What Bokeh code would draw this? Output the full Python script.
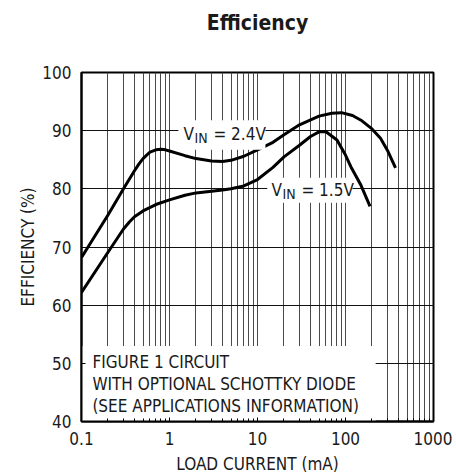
from bokeh.plotting import figure
from bokeh.models import FixedTicker, Label, BoxAnnotation, Range1d, Title
from bokeh.embed import file_html
from bokeh.resources import INLINE

# ---- data ----
load_24 = [0.1, 0.2, 0.3, 0.4, 0.45, 0.5, 0.55, 0.6, 0.7, 0.8, 0.9, 1.0, 1.5, 2, 3, 4, 5, 7, 10, 15, 20, 30, 50, 70, 90, 120, 150, 200, 250, 300, 370]
eff_24 = [68.2, 75.5, 80.0, 83.1, 84.3, 85.2, 85.8, 86.3, 86.7, 86.8, 86.7, 86.5, 85.7, 85.2, 84.8, 84.7, 84.9, 85.6, 86.7, 88.0, 89.3, 91.0, 92.5, 93.0, 93.1, 92.6, 91.8, 90.3, 88.7, 86.6, 83.6]

load_15 = [0.1, 0.2, 0.3, 0.35, 0.4, 0.5, 0.7, 1.0, 1.5, 2, 3, 4, 5, 7, 10, 15, 20, 30, 40, 50, 60, 80, 100, 115, 150, 190]
eff_15 = [62.2, 69.1, 73.1, 74.3, 75.2, 76.2, 77.3, 78.1, 78.9, 79.3, 79.6, 79.8, 80.0, 80.5, 81.6, 83.7, 85.5, 87.5, 89.0, 89.8, 89.8, 88.4, 85.8, 83.8, 80.6, 77.0]

x_ticks = [0.1, 1, 10, 100, 1000]
x_tick_labels = ["0.1", "1", "10", "100", "1000"]
x_minor = [m * d for d in (0.1, 1, 10, 100) for m in range(2, 10)]
y_ticks = [40, 50, 60, 70, 80, 90, 100]

TITLE = "Efficiency"
FONT = "DejaVu Sans Condensed, Roboto, sans-serif"

p = figure(width=452, height=476, x_axis_type="log",
           x_range=Range1d(0.1, 1000), y_range=Range1d(40, 100),
           output_backend="svg", toolbar_location=None,
           min_border_left=81, min_border_right=19,
           min_border_top=72, min_border_bottom=53)
p.background_fill_color = "white"
p.border_fill_color = "white"
p.outline_line_color = "black"
p.outline_line_width = 2

# spacer (nearest the frame) then the title above it
p.add_layout(Title(text=" ", text_font_size="20px", standoff=14), "above")
p.add_layout(Title(text=TITLE, align="center", text_font=FONT, text_font_size="21px",
                   text_font_style="bold", text_color="#1a1a1a", standoff=0), "above")

# grids
p.xgrid.ticker = FixedTicker(ticks=x_ticks, minor_ticks=x_minor)
p.xgrid.grid_line_color = "#4a4a4a"
p.xgrid.minor_grid_line_color = "#4a4a4a"
p.xgrid.grid_line_width = 1
p.xgrid.minor_grid_line_width = 1
p.ygrid.ticker = FixedTicker(ticks=y_ticks)
p.ygrid.grid_line_color = "#111111"
p.ygrid.grid_line_width = 1

# axes
p.xaxis.ticker = FixedTicker(ticks=x_ticks, minor_ticks=x_minor)
p.xaxis.major_label_overrides = dict(zip(x_ticks, x_tick_labels))
p.yaxis.ticker = FixedTicker(ticks=y_ticks)
for ax in (p.xaxis[0], p.yaxis[0]):
    ax.axis_line_width = 2
    ax.axis_line_color = "black"
    ax.major_tick_in = 4
    ax.major_tick_out = 0
    ax.major_tick_line_width = 1
    ax.minor_tick_in = 3
    ax.minor_tick_out = 0
    ax.major_label_text_font = FONT
    ax.major_label_text_font_size = "17px"
    ax.major_label_text_color = "#1a1a1a"
    ax.axis_label_text_font = FONT
    ax.axis_label_text_font_size = "17px"
    ax.axis_label_text_font_style = "normal"
    ax.axis_label_text_color = "#1a1a1a"
p.yaxis.minor_tick_line_color = None
p.xaxis.axis_label = "LOAD CURRENT (mA)"
p.yaxis.axis_label = "EFFICIENCY (%)"
p.xaxis.major_label_standoff = 10
p.xaxis.axis_label_standoff = 6
p.yaxis.major_label_standoff = 10
p.yaxis.axis_label_standoff = 1

# white backgrounds behind the in-plot texts (above grid, below axes/curves)
for l, r, b, t in [(0.1, 220, 40, 53), (1.26, 12.3, 86.7, 91.8), (12.9, 120, 77.6, 81.9)]:
    p.add_layout(BoxAnnotation(left=l, right=r, bottom=b, top=t,
                               fill_color="white", fill_alpha=1.0,
                               line_color=None, level="glyph"))

p.line(load_24, eff_24, line_width=3, color="black", line_join="round")
p.line(load_15, eff_15, line_width=3, color="black", line_join="round")

def vin_label(x, y, val):
    common = dict(x=x, y=y, text_font=FONT, text_color="#1a1a1a",
                  text_baseline="alphabetic", text_align="left")
    p.add_layout(Label(text="V", text_font_size="17px", **common))
    p.add_layout(Label(text="IN", text_font_size="14px", x_offset=11, y_offset=-4, **common))
    p.add_layout(Label(text="= " + val, text_font_size="17px", x_offset=30, **common))

vin_label(1.44, 89.4, "2.4V")
vin_label(14.4, 79.8, "1.5V")

note = ["FIGURE 1 CIRCUIT", "WITH OPTIONAL SCHOTTKY DIODE", "(SEE APPLICATIONS INFORMATION)"]
for i, line in enumerate(note):
    p.add_layout(Label(x=0.133, y=50.2, y_offset=-22 * i, text=line,
                       text_font=FONT, text_font_size="17px", text_color="#1a1a1a",
                       text_baseline="alphabetic", text_align="left"))

open("out.html", "w").write(file_html(p, INLINE))
